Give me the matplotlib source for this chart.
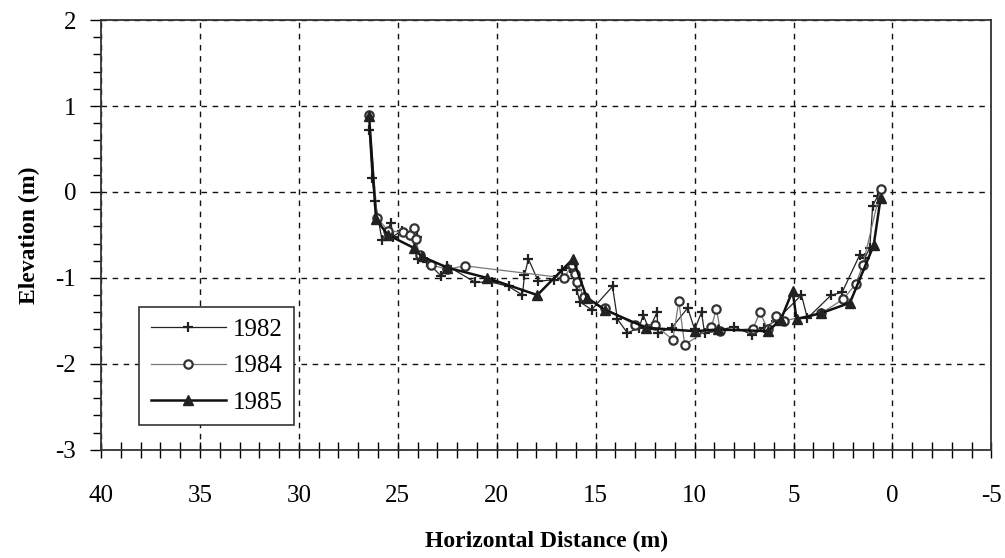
import numpy as np
import matplotlib.pyplot as plt
from matplotlib.ticker import MultipleLocator

# surveyed cross-section profiles (distance m, elevation m)
x_1982 = [26.45, 26.3, 26.15, 25.8, 25.35, 25.25, 24.8, 24.05, 24.0, 23.5, 22.8, 22.5,
          21.1, 20.25, 19.4, 18.7, 18.6, 18.4, 17.9, 17.1, 16.7, 16.3, 15.95, 15.8,
          15.2, 14.15, 13.9, 13.4, 12.8, 12.6, 12.3, 11.9, 11.85, 11.15, 10.35, 10.0,
          9.65, 9.5, 8.0, 7.1, 6.5, 5.9, 4.6, 4.3, 3.1, 2.55, 1.65, 1.4, 1.15, 1.0, 0.75]
z_1982 = [0.72, 0.16, -0.1, -0.56, -0.36, -0.52, -0.45, -0.52, -0.78, -0.82, -0.98, -0.86,
          -1.05, -1.05, -1.1, -1.2, -0.97, -0.78, -1.04, -1.02, -0.91, -0.88, -1.14, -1.28,
          -1.37, -1.1, -1.48, -1.64, -1.58, -1.43, -1.6, -1.4, -1.64, -1.58, -1.35, -1.6,
          -1.4, -1.64, -1.57, -1.66, -1.58, -1.5, -1.2, -1.47, -1.2, -1.17, -0.73, -0.77,
          -0.65, -0.16, -0.05]

x_1984 = [26.45, 26.05, 25.5, 24.75, 24.4, 24.2, 24.1, 23.9, 23.3, 22.5, 21.6, 16.6,
          16.2, 16.05, 15.95, 15.6, 14.55, 13.0, 12.0, 11.1, 10.8, 10.5, 9.15, 8.9,
          8.7, 7.05, 6.7, 6.3, 5.9, 5.5, 3.6, 2.5, 1.85, 1.5, 0.6]
z_1984 = [0.9, -0.3, -0.45, -0.47, -0.5, -0.42, -0.55, -0.73, -0.85, -0.9, -0.86, -1.0,
          -0.85, -0.95, -1.05, -1.22, -1.35, -1.55, -1.55, -1.72, -1.27, -1.78, -1.57, -1.36,
          -1.62, -1.59, -1.4, -1.6, -1.44, -1.5, -1.41, -1.25, -1.07, -0.85, 0.03]

x_1985 = [26.45, 26.1, 25.5, 24.2, 23.8, 22.5, 20.5, 17.95, 16.15, 15.45, 14.55, 12.45,
          10.0, 8.8, 6.3, 5.65, 5.05, 4.85, 3.6, 2.15, 0.95, 0.6]
z_1985 = [0.88, -0.32, -0.5, -0.65, -0.75, -0.88, -1.0, -1.2, -0.78, -1.23, -1.37, -1.58,
          -1.62, -1.6, -1.62, -1.49, -1.15, -1.48, -1.41, -1.29, -0.62, -0.07]

plt.rcParams['font.family'] = 'Liberation Serif'
plt.rcParams['axes.unicode_minus'] = False

fig = plt.figure(figsize=(10.05, 5.58), dpi=100)
ax = fig.add_axes([0.1005, 0.194, 0.886, 0.770])

ax.plot(x_1982, z_1982, color='#222222', lw=0.9, marker='+', ms=7, mew=1.6,
        label='1982')
ax.plot(x_1984, z_1984, color='#777777', lw=0.9, marker='o', ms=6, mew=1.6,
        mfc='white', mec='#333333', label='1984')
ax.plot(x_1985, z_1985, color='#111111', lw=1.8, marker='^', ms=6.5,
        mfc='#222222', mec='#222222', label='1985')

ax.set_xlim(40, -5)
ax.set_ylim(-3, 2)
ax.xaxis.set_major_locator(MultipleLocator(5))
ax.xaxis.set_minor_locator(MultipleLocator(1))
ax.yaxis.set_major_locator(MultipleLocator(1))
ax.yaxis.set_minor_locator(MultipleLocator(0.2))

ax.tick_params(axis='x', which='both', direction='inout', length=11, width=1,
               labelsize=18, pad=20)
ax.tick_params(axis='y', which='major', direction='out', length=8, width=1,
               labelsize=18, pad=10)
ax.tick_params(axis='y', which='minor', direction='out', length=6, width=1)

ax.grid(True, which='major', color='#111111', ls=(0, (4, 4)), lw=1)
for s in ax.spines.values():
    s.set_color('#333333')
    s.set_linewidth(1.3)

ax.set_xlabel('Horizontal Distance (m)', fontsize=17, fontweight='bold', labelpad=17)
ax.set_ylabel('Elevation (m)', fontsize=17, fontweight='bold', labelpad=11)

leg = ax.legend(loc='lower left', bbox_to_anchor=(0.043, 0.058), fontsize=18,
                handlelength=3.0, frameon=True, fancybox=False, framealpha=1,
                edgecolor='#333333', borderpad=0.45, labelspacing=0.55,
                handletextpad=0.3, borderaxespad=0)
leg.get_frame().set_linewidth(1.2)

fig.savefig('out.png', dpi=100)
